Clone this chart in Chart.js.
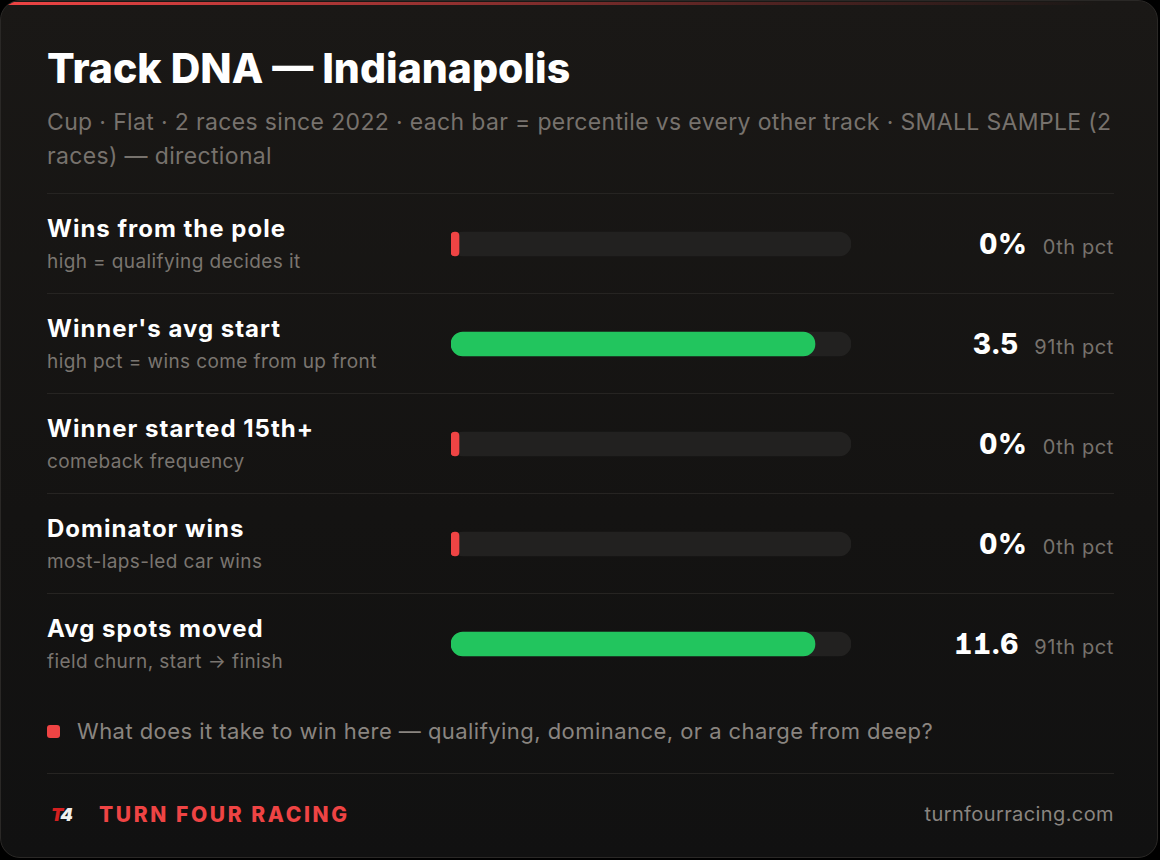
<!DOCTYPE html>
<html>
<head>
<meta charset="utf-8">
<script src="https://cdn.jsdelivr.net/npm/chart.js@4.4.1/dist/chart.umd.min.js"></script>
<style>
  html, body { margin: 0; padding: 0; background: #000; }
  body { width: 1160px; height: 860px; font-family: Inter, "Noto Sans", sans-serif; }
  .card {
    position: absolute; left: 0; top: 0; width: 1156px; height: 856px;
    border: 1px solid #2a2826; border-radius: 20px; overflow: hidden;
    background: linear-gradient(180deg, #1a1816 0%, #141312 60%, #111111 100%);
  }
  .topline { position: absolute; left: 0; top: 1px; width: 1100px; height: 3px;
    background: linear-gradient(90deg, #ef4444, rgba(239,68,68,0.25) 70%, rgba(239,68,68,0)); }
  h1 { position: absolute; left: 46px; top: 42px; margin: 0; color: #fff;
    font-size: 41px; font-weight: 800; letter-spacing: 0; }
  .sub { position: absolute; left: 46px; top: 104px; width: 1070px; color: #77726d;
    font-size: 23px; line-height: 34px; letter-spacing: 0.35px; }
  .row { position: absolute; left: 46px; width: 1067px; height: 100px; border-top: 1px solid #262422; }
  .row .lab { position: absolute; left: 0; top: 20px; color: #fff; font-size: 24px; font-weight: 700; letter-spacing: 1px; }
  .row .hint { position: absolute; left: 0; top: 56px; color: #7a7570; font-size: 19px; letter-spacing: 0.4px; }
  .row .val { position: absolute; right: 0; top: 33px; display: flex; align-items: baseline; }
  .row .val b { color: #fff; font-size: 28px; font-weight: 800; font-feature-settings: "tnum", "cv01"; letter-spacing: 0.8px; }
  .row .val span { color: #77726d; font-size: 20px; margin-left: 15px; letter-spacing: 0.6px; }
  #wrap { position: absolute; left: 450px; top: 193px; width: 400px; height: 500px; }
  .note { position: absolute; left: 46px; top: 717px; color: #8a8580; font-size: 22px; letter-spacing: 0.45px; }
  .note i { display: inline-block; width: 13px; height: 13px; border-radius: 3px; background: #ef4444;
    margin-right: 17px; vertical-align: 1px; }
  .foot { position: absolute; left: 46px; top: 772px; width: 1067px; height: 84px; border-top: 1px solid #262422; }
  .logo { position: absolute; left: 4px; top: 30px; font-size: 18px; font-weight: 900; font-style: italic; letter-spacing: -2px; }
  .logo .t { color: #d42020; } .logo .f { color: #eee; }
  .brand { position: absolute; left: 52px; top: 28px; color: #ef4444; font-size: 21px; font-weight: 800; letter-spacing: 2.6px; }
  .site { position: absolute; right: 0; top: 28px; color: #8a8580; font-size: 20px; letter-spacing: 0.4px; }
</style>
</head>
<body>
<div class="card">
  <div class="topline"></div>
  <h1>Track DNA — Indianapolis</h1>
  <div class="sub">Cup · Flat · 2 races since 2022 · each bar = percentile vs every other track · SMALL SAMPLE (2 races) — directional</div>
  <div id="rows"></div>
  <div id="wrap"><canvas id="dna"></canvas></div>
  <div class="note"><i></i>What does it take to win here — qualifying, dominance, or a charge from deep?</div>
  <div class="foot">
    <div class="logo"><span class="t">T</span><span class="f">4</span></div>
    <div class="brand">TURN FOUR RACING</div>
    <div class="site">turnfourracing.com</div>
  </div>
</div>
<script>
const metrics = ['Wins from the pole', "Winner's avg start", 'Winner started 15th+', 'Dominator wins', 'Avg spots moved'];
const hints = ['high = qualifying decides it', 'high pct = wins come from up front', 'comeback frequency', 'most-laps-led car wins', 'field churn, start → finish'];
const values = ['0%', '3.5', '0%', '0%', '11.6'];
const percentiles = [0, 91, 0, 0, 91];

// text rows
const rows = document.getElementById('rows');
metrics.forEach(function(m, i) {
    const r = document.createElement('div');
    r.className = 'row';
    r.style.top = (192 + i * 100) + 'px';
    r.innerHTML = '<div class="lab">' + m + '</div><div class="hint">' + hints[i] + '</div>' +
        '<div class="val"><b>' + values[i] + '</b><span>' + percentiles[i] + 'th pct</span></div>';
    rows.appendChild(r);
});

// bars — 0 gets a small stub so it stays visible
const shown = percentiles.map(p => Math.max(p, 2));
const colors = percentiles.map(p => p >= 50 ? '#22c55e' : '#ef4444');

new Chart(document.getElementById('dna'), {
    type: 'bar',
    data: {
        labels: metrics,
        datasets: [{
            data: shown,
            backgroundColor: colors,
            borderRadius: 12,
            borderSkipped: false,
            barThickness: 24,
            grouped: false,
            order: 0
        }, {
            data: metrics.map(() => 100),
            backgroundColor: '#222120',
            borderRadius: 12,
            borderSkipped: false,
            barThickness: 24,
            grouped: false,
            order: 1
        }]
    },
    options: {
        indexAxis: 'y',
        responsive: true,
        maintainAspectRatio: false,
        animation: false,
        layout: { padding: 0 },
        plugins: { legend: { display: false }, tooltip: { enabled: false } },
        scales: {
            x: { display: false, min: 0, max: 100 },
            y: { display: false }
        }
    }
});
</script>
</body>
</html>
